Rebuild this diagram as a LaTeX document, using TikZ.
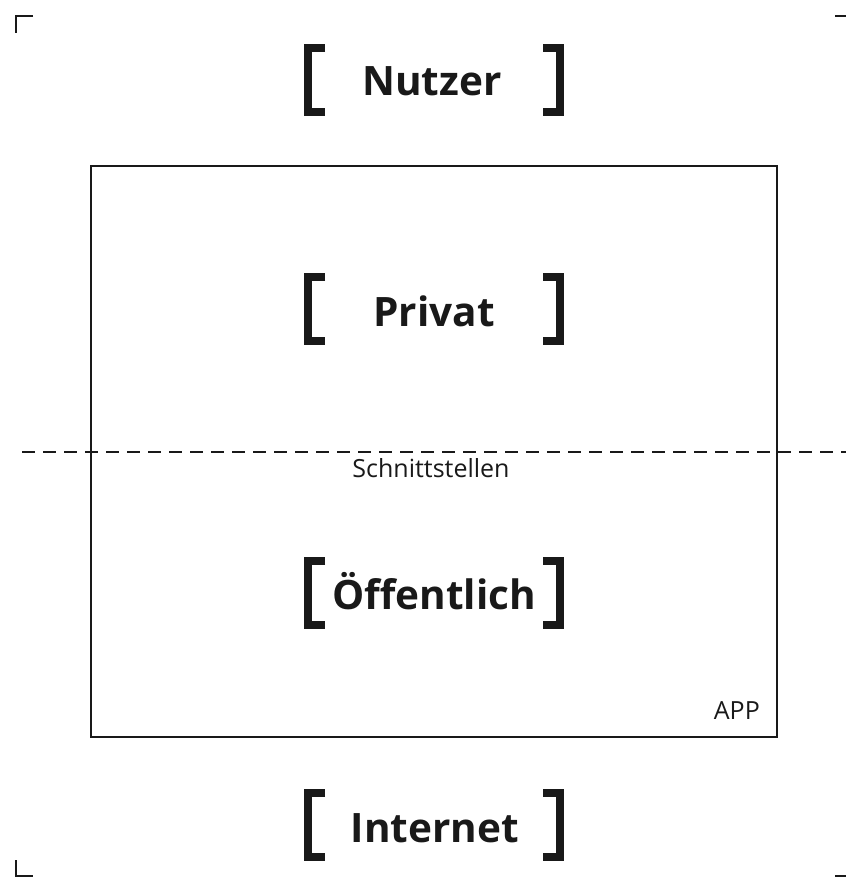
\documentclass[tikz,border=0pt]{standalone}
\usepackage{fontspec}
\setmainfont{Open Sans}
\begin{document}
\begin{tikzpicture}[x=1pt,y=-1pt,
  frame/.style={line width=2pt, draw=black!90},
  cropmark/.style={line width=2.6pt, draw=black!90},
  bracketline/.style={line width=8pt, draw=black!90, miter limit=10},
  title/.style={anchor=base, font=\fontsize{40.5}{40.5}\selectfont\bfseries, text=black!90, inner sep=0pt},
  small/.style={anchor=base, font=\fontsize{25}{25}\selectfont, text=black!90, inner sep=0pt},
  divider/.style={line width=2pt, draw=black!90, dash pattern=on 13pt off 8pt}]
  \useasboundingbox (0,0) rectangle (846,878);

  % crop marks
  \draw[cropmark] (33,16) -- (16,16) -- (16,33);
  \draw[cropmark] (835,16) -- (846,16);
  \draw[cropmark] (16,860) -- (16,876) -- (33,876);
  \draw[cropmark] (835,876) -- (846,876);

  % app frame
  \node[frame, minimum width=686pt, minimum height=571pt, inner sep=0pt] (app) at (434,451.5) {};
  \node[small, anchor=base east] (applabel) at (760,719) {APP};

  % interface divider
  \coordinate (divL) at (22,452);
  \coordinate (divR) at (846,452);
  \draw[divider] (divL) -- (divR);
  \node[small] (schnitt) at (431,477) {Schnittstellen};

  % bracketed labels
  \newcommand{\bracketpair}[1]{%
    \draw[bracketline] (325,#1-32) -- (307.5,#1-32) -- (307.5,#1+32) -- (325,#1+32);
    \draw[bracketline] (543,#1-32) -- (560,#1-32) -- (560,#1+32) -- (543,#1+32);}
  \bracketpair{80}
  \bracketpair{309}
  \bracketpair{593}
  \bracketpair{825}

  \node[title] (nutzer) at (432,95) {Nutzer};
  \node[title] (privat) at (434,326) {Privat};
  \node[title] (oeff) at (434,609) {Öffentlich};
  \node[title] (internet) at (435,842) {Internet};
\end{tikzpicture}
\end{document}
